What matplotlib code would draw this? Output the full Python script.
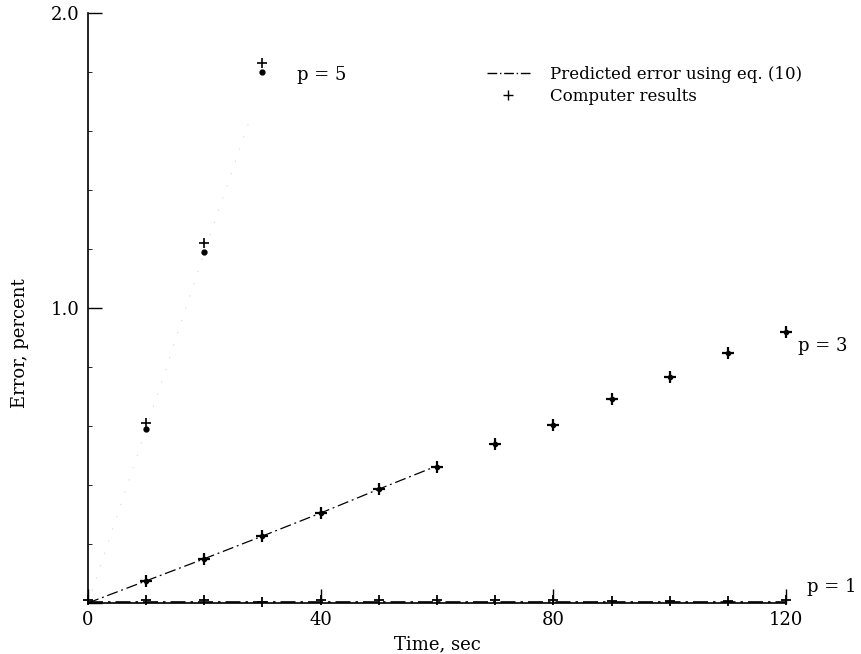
import matplotlib
matplotlib.use("Agg")
from matplotlib import pyplot as plt

plt.rcParams['font.family'] = ['DejaVu Serif']

# time points, sec
t = [0, 10, 20, 30, 40, 50, 60, 70, 80, 90, 100, 110, 120]

# p = 5
t5 = [10, 20, 30]
comp5 = [0.61, 1.22, 1.83]
pred5_t = [0, 10, 20, 28]
pred5 = [0.0, 0.59, 1.19, 1.65]
pred5_pts = [0.59, 1.19, 1.80]

# p = 3
comp3 = [0.0, 0.075, 0.15, 0.227, 0.305, 0.386, 0.46, 0.54, 0.605, 0.69, 0.766, 0.847, 0.92]
pred3_t = [0, 10, 20, 30, 40, 50, 60]
pred3 = [0.0, 0.075, 0.15, 0.227, 0.305, 0.386, 0.465]

# p = 1
comp1 = [0.01, 0.01, 0.01, 0.005, 0.01, 0.01, 0.01, 0.01, 0.01, 0.008, 0.008, 0.008, 0.01]
pred1 = [0.005] * len(t)

fig = plt.figure(figsize=(8.62, 6.54), dpi=100)
ax = fig.add_axes([0.102, 0.078, 0.81, 0.902])

dashdot = (0, (9, 3, 1.5, 3))

# predicted curves
ax.plot(pred5_t, pred5, color='0.8', lw=0.6, linestyle=(0, (1.5, 14)))
ax.plot(t5, pred5_pts, 'o', color='black', ms=3.5, clip_on=False)
ax.plot(pred3_t, pred3, color='black', lw=0.9, linestyle=dashdot)
ax.plot(t, pred1, color='black', lw=1.2, linestyle=dashdot, clip_on=False)

# computer results
ax.plot(t5, comp5, '+', color='black', ms=7, mew=1.2, clip_on=False)
ax.plot(t[1:], comp3[1:], '+', color='black', ms=8, mew=1.6, clip_on=False)
ax.plot(t[1:], comp3[1:], 'o', color='black', ms=3, clip_on=False)
ax.plot(t, comp1, '+', color='black', ms=7, mew=1.3, clip_on=False)

ax.set_xlim(0, 120)
ax.set_ylim(0, 2.0)

for s in ['top', 'right']:
    ax.spines[s].set_visible(False)
ax.spines['left'].set_linewidth(1.2)
ax.spines['bottom'].set_linewidth(1.2)

ax.set_xticks([0, 40, 80, 120])
ax.set_xticklabels(['0', '40', '80', '120'])
ax.set_yticks([0, 1.0, 2.0])
ax.set_yticklabels(['0', '1.0', '2.0'])
ax.set_yticks([0.2, 0.4, 0.6, 0.8, 1.2, 1.4, 1.6, 1.8], minor=True)
ax.tick_params(axis='both', which='major', direction='in', length=10, width=1,
               labelsize=13, pad=6)
ax.tick_params(axis='y', which='minor', direction='in', length=3, width=0.6)
# the "0" on y is shared with the x axis
ax.yaxis.get_major_ticks()[0].label1.set_visible(False)

ax.set_xlabel('Time, sec', fontsize=13, labelpad=4)
ax.set_ylabel('Error, percent', fontsize=13)
ax.yaxis.set_label_coords(-0.085, 0.44)

# curve labels
ax.text(36, 1.79, 'p = 5', fontsize=13, va='center')
ax.text(122, 0.87, 'p = 3', fontsize=13, va='center', clip_on=False)
ax.text(123.5, 0.055, 'p = 1', fontsize=13, va='center', clip_on=False)

# legend
ax.plot([], [], color='black', lw=1.0, linestyle=(0, (7, 2, 1, 2)),
        label='Predicted error using eq. (10)')
ax.plot([], [], '+', color='black', ms=7, mew=1.0, label='Computer results')
handles, labels = ax.get_legend_handles_labels()
ax.legend(handles, labels, loc='upper left', bbox_to_anchor=(0.547, 0.922),
          bbox_transform=fig.transFigure, frameon=False, fontsize=12,
          handlelength=2.6, handletextpad=1.2, labelspacing=0.3)

plt.savefig('out.png', dpi=100)
